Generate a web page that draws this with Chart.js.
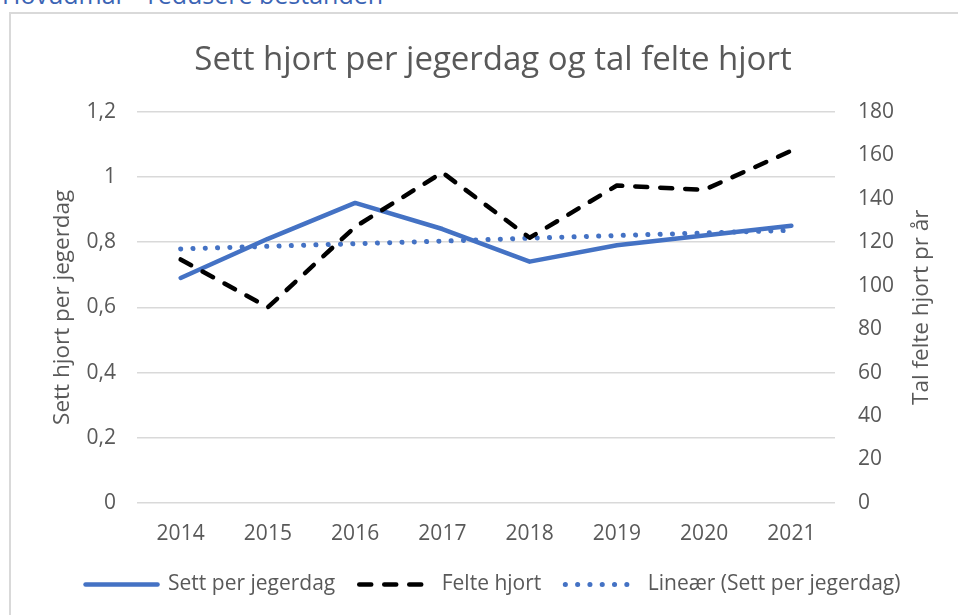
<!DOCTYPE html>
<html>
<head>
<meta charset="utf-8">
<script src="https://cdn.jsdelivr.net/npm/chart.js@4"></script>
<style>
  html, body { margin: 0; padding: 0; background: #fff; overflow: hidden; }
  body { width: 958px; height: 615px; position: relative; font-family: "Open Sans", sans-serif; }
  #heading { position: absolute; left: 2px; top: -18px; font-size: 25px; line-height: 25px; color: #3b64b4; white-space: nowrap; }
  #box { position: absolute; left: 9px; top: 12px; width: 964px; height: 610px; border: 2px solid #d9d9d9; background: #fff; }
  #chart { display: block; }
</style>
</head>
<body>
<div id="heading">Hovudmål – redusere bestanden</div>
<div id="box"><canvas id="chart" width="964" height="600"></canvas></div>
<script>
const years = ['2014', '2015', '2016', '2017', '2018', '2019', '2020', '2021'];
const settPerJegerdag = [0.69, 0.81, 0.92, 0.84, 0.74, 0.79, 0.82, 0.85];
const felteHjort = [112, 90, 127, 152, 122, 146, 144, 162];
const lineaerTrend = [0.779, 0.787, 0.795, 0.803, 0.812, 0.820, 0.828, 0.836];

const textColor = '#595959';
const fontFamily = '"Open Sans", sans-serif';

// axis titles: both read bottom-to-top, so they are drawn by hand
const axisTitles = {
    id: 'axisTitles',
    afterDraw(chart) {
        const { ctx, chartArea } = chart;
        const midY = (chartArea.top + chartArea.bottom) / 2;
        ctx.save();
        ctx.fillStyle = textColor;
        ctx.font = '22.5px ' + fontFamily;
        ctx.textAlign = 'center';
        ctx.textBaseline = 'middle';
        [[52, 'Sett hjort per jegerdag'], [911, 'Tal felte hjort pr år']].forEach(([x, label]) => {
            ctx.save();
            ctx.translate(x, midY);
            ctx.rotate(-Math.PI / 2);
            ctx.fillText(label, 0, 0);
            ctx.restore();
        });
        ctx.restore();
    }
};

new Chart(document.getElementById('chart'), {
    type: 'line',
    data: {
        labels: years,
        datasets: [
            {
                label: 'Sett per jegerdag',
                data: settPerJegerdag,
                yAxisID: 'y',
                borderColor: '#4472c4',
                backgroundColor: '#4472c4',
                borderWidth: 4.5,
                borderCapStyle: 'round',
                borderJoinStyle: 'round',
                pointRadius: 0,
                order: 2
            },
            {
                label: 'Felte hjort',
                data: felteHjort,
                yAxisID: 'y1',
                borderColor: '#000000',
                backgroundColor: '#000000',
                borderWidth: 4.5,
                borderDash: [12, 13],
                borderCapStyle: 'round',
                borderJoinStyle: 'round',
                pointRadius: 0,
                order: 1
            },
            {
                label: 'Lineær (Sett per jegerdag)',
                data: lineaerTrend,
                yAxisID: 'y',
                borderColor: '#4472c4',
                backgroundColor: '#4472c4',
                borderWidth: 5,
                borderDash: [0.1, 12.2],
                borderCapStyle: 'round',
                pointRadius: 0,
                order: 3
            }
        ]
    },
    options: {
        responsive: false,
        animation: false,
        layout: { padding: { left: 0, right: 0, top: 0, bottom: 9 } },
        plugins: {
            title: {
                display: true,
                text: 'Sett hjort per jegerdag og tal felte hjort',
                color: textColor,
                font: { family: fontFamily, size: 33, weight: 'normal' },
                padding: { top: 27, bottom: 31 }
            },
            legend: {
                position: 'bottom',
                labels: {
                    color: textColor,
                    font: { family: fontFamily, size: 21 },
                    usePointStyle: true,
                    pointStyle: 'line',
                    pointStyleWidth: 72,
                    boxWidth: 72,
                    padding: 24,
                    generateLabels(chart) {
                        return chart.data.datasets.map((ds, i) => ({
                            text: ds.label,
                            datasetIndex: i,
                            strokeStyle: ds.borderColor,
                            fillStyle: ds.borderColor,
                            lineWidth: ds.borderWidth,
                            lineDash: ds.borderDash || [],
                            lineCap: ds.borderCapStyle,
                            pointStyle: 'line',
                            fontColor: textColor
                        }));
                    }
                }
            },
            tooltip: { enabled: false }
        },
        scales: {
            x: {
                offset: true,
                grid: { display: false },
                border: { display: false },
                ticks: { color: textColor, font: { family: fontFamily, size: 21 }, padding: 10 },
                afterFit(scale) { scale.height = 47; }
            },
            y: {
                position: 'left',
                min: 0,
                max: 1.2,
                ticks: {
                    stepSize: 0.2,
                    color: textColor,
                    font: { family: fontFamily, size: 21 },
                    padding: 21,
                    callback: v => String(Math.round(v * 10) / 10).replace('.', ',')
                },
                grid: { color: '#d9d9d9', lineWidth: 1.5, drawTicks: false },
                border: { display: false },
                afterFit(scale) { scale.width = 126; }
            },
            y1: {
                position: 'right',
                min: 0,
                max: 180,
                ticks: {
                    stepSize: 20,
                    color: textColor,
                    font: { family: fontFamily, size: 21 },
                    padding: 23
                },
                grid: { display: false, drawTicks: false },
                border: { display: false },
                afterFit(scale) { scale.width = 140; }
            }
        }
    },
    plugins: [axisTitles]
});
</script>
</body>
</html>
